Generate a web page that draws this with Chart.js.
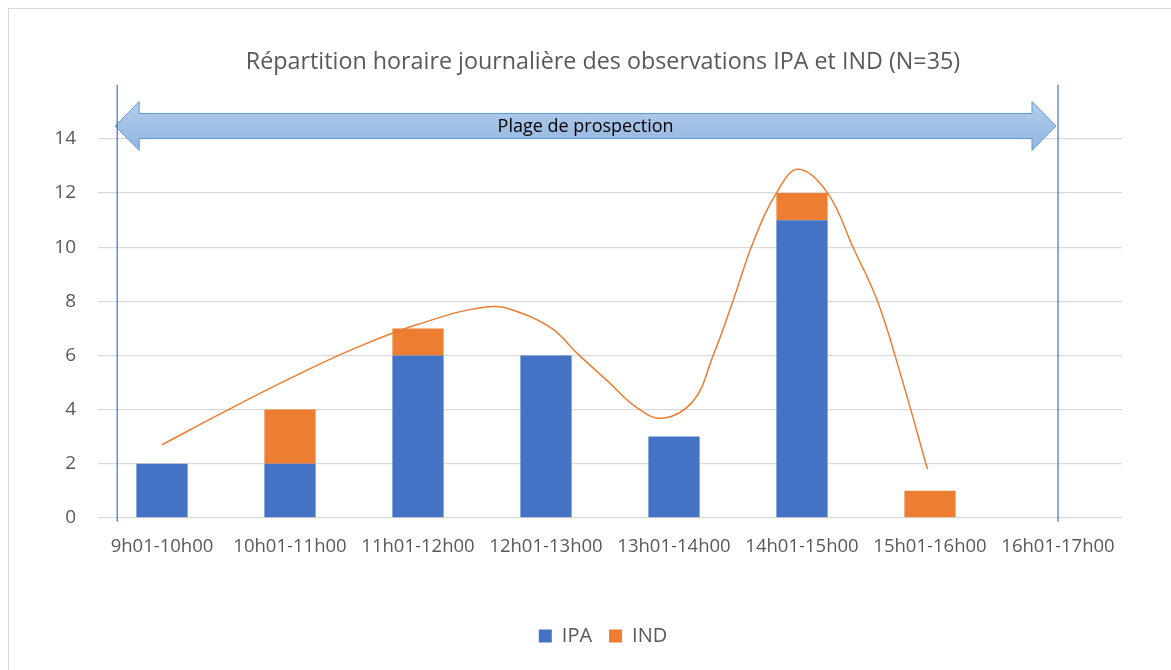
<!DOCTYPE html>
<html>
<head>
<meta charset="utf-8">
<script src="https://cdn.jsdelivr.net/npm/chart.js@4.4.1/dist/chart.umd.min.js"></script>
<style>
  body { margin: 0; background: #fff; }
  #frame { position: absolute; left: 8px; top: 8px; width: 1170px; height: 670px;
           border-left: 1px solid #d9d9d9; border-top: 1px solid #d9d9d9; }
  #wrap { position: absolute; left: 0; top: 0; width: 1171px; height: 670px; }
</style>
</head>
<body>
<div id="frame"></div>
<div id="wrap"><canvas id="chart"></canvas></div>
<script>
const hours = ['9h01-10h00', '10h01-11h00', '11h01-12h00', '12h01-13h00',
               '13h01-14h00', '14h01-15h00', '15h01-16h00', '16h01-17h00'];
const ipa = [2, 2, 6, 6, 3, 11, 0, 0];
const ind = [0, 2, 1, 0, 0, 1, 1, 0];

// courbe de tendance lissée (x en rang de catégorie)
const trendX = [0, 0.5, 1, 1.5, 2, 2.55, 2.8, 3.05, 3.25, 3.48, 3.71, 3.91,
                4.15, 4.3, 4.46, 4.62, 4.8, 4.97, 5.2, 5.4, 5.59, 5.77, 5.98];
const trendY = [2.7, 3.95, 5.15, 6.25, 7.15, 7.8, 7.58, 6.98, 6.05, 5.06, 4.07, 3.68,
                4.32, 5.92, 8.0, 10.2, 12.0, 12.88, 12.0, 9.98, 8.0, 5.3, 1.8];

// plage de prospection (flèche + bornes verticales)
const rangeLabel = 'Plage de prospection';
const rangeStart = -0.35;
const rangeEnd = 7.0;
const arrowLevel = 14.48;
const boundTop = 16;
const boundBottom = -0.15;

const grey = '#595959';
const font = '"Open Sans", sans-serif';

const prospectionPlugin = {
    id: 'prospection',
    afterDatasetsDraw(chart) {
        const ctx = chart.ctx;
        const xs = chart.scales.xLine;
        const ys = chart.scales.y;
        const x0 = xs.getPixelForValue(rangeStart);
        const x1 = xs.getPixelForValue(rangeEnd);
        const xl = x0 - 2, xr = x1 - 2;
        const yc = ys.getPixelForValue(arrowLevel);
        const shaft = 12.5, head = 24.5, headLen = 24;

        ctx.save();
        const grad = ctx.createLinearGradient(0, yc - head, 0, yc + head);
        grad.addColorStop(0, '#b3cdec');
        grad.addColorStop(1, '#93b5e0');
        ctx.beginPath();
        ctx.moveTo(xl, yc);
        ctx.lineTo(xl + headLen, yc - head);
        ctx.lineTo(xl + headLen, yc - shaft);
        ctx.lineTo(xr - headLen, yc - shaft);
        ctx.lineTo(xr - headLen, yc - head);
        ctx.lineTo(xr, yc);
        ctx.lineTo(xr - headLen, yc + head);
        ctx.lineTo(xr - headLen, yc + shaft);
        ctx.lineTo(xl + headLen, yc + shaft);
        ctx.lineTo(xl + headLen, yc + head);
        ctx.closePath();
        ctx.fillStyle = grad;
        ctx.fill();
        ctx.strokeStyle = '#5b9bd5';
        ctx.lineWidth = 1;
        ctx.stroke();

        ctx.fillStyle = '#000';
        ctx.font = '18px ' + font;
        ctx.textAlign = 'center';
        ctx.textBaseline = 'middle';
        ctx.fillText(rangeLabel, (xl + xr) / 2, yc + 1);

        ctx.strokeStyle = '#4472c4';
        ctx.lineWidth = 1.2;
        [x0, x1].forEach(x => {
            ctx.beginPath();
            ctx.moveTo(x, ys.getPixelForValue(boundTop));
            ctx.lineTo(x, ys.getPixelForValue(boundBottom));
            ctx.stroke();
        });
        ctx.restore();
    }
};

new Chart(document.getElementById('chart'), {
    type: 'bar',
    data: {
        labels: hours,
        datasets: [
            { label: 'IPA', data: ipa, backgroundColor: '#4472c4', order: 2, grouped: false,
              barPercentage: 0.4, categoryPercentage: 1 },
            { label: 'IND', data: ind, backgroundColor: '#ed7d31', order: 2, grouped: false,
              barPercentage: 0.4, categoryPercentage: 1 },
            { type: 'line', label: 'Tendance', xAxisID: 'xLine', order: 1,
              data: trendX.map((x, i) => ({ x, y: trendY[i] })),
              borderColor: '#ed7d31', borderWidth: 1.5, pointRadius: 0,
              tension: 0.4, fill: false },
        ],
    },
    options: {
        responsive: true,
        maintainAspectRatio: false,
        animation: false,
        layout: { padding: { left: 49, right: 14, top: 30, bottom: 14 } },
        plugins: {
            title: {
                display: true,
                text: 'Répartition horaire journalière des observations IPA et IND (N=35)',
                color: grey,
                font: { family: font, size: 23.3, weight: 'normal' },
                padding: { top: 18, bottom: 63 },
            },
            legend: {
                position: 'bottom',
                labels: {
                    color: grey,
                    font: { family: font, size: 20 },
                    boxWidth: 13, boxHeight: 13, padding: 17,
                    filter: item => item.text !== 'Tendance',
                },
            },
            tooltip: { enabled: false },
        },
        scales: {
            x: {
                stacked: true,
                grid: { display: false },
                border: { display: false },
                ticks: { color: grey, font: { family: font, size: 18.5 },
                         maxRotation: 0, padding: 10 },
                afterFit: scale => { scale.height += 41; },
            },
            xLine: {
                type: 'linear', display: false, offset: false, min: -0.5, max: 7.5,
            },
            y: {
                stacked: true,
                min: 0, max: 14,
                ticks: { stepSize: 2, color: grey, padding: 22,
                         font: { family: font, size: 19 } },
                grid: { color: '#d9d9d9', drawTicks: false, lineWidth: 1.3 },
                border: { display: false },
                afterFit: scale => { scale.width = 49; },
            },
            yRight: {
                position: 'right',
                grid: { display: false },
                border: { display: false },
                ticks: { display: false },
                afterFit: scale => { scale.width = 35; },
            },
        },
    },
    plugins: [prospectionPlugin],
});
</script>
</body>
</html>
